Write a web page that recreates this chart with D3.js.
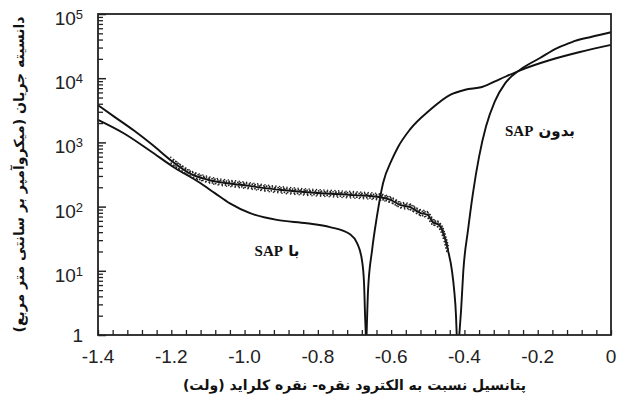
<!DOCTYPE html>
<html>
	<head>
		<meta charset="utf-8">
		<style>
			body {
				margin: 0;
				background: #fff;
			}

			#chart {
				display: block;
			}

			.tick-label {
				font-family: 'Liberation Sans', Arial, sans-serif;
				font-size: 19px;
				fill: #222;
			}

			.fa {
				font-family: 'DejaVu Sans', sans-serif;
				font-weight: bold;
				direction: rtl;
				unicode-bidi: embed;
				fill: #111;
			}
		</style>
	</head>
	<body>
		<svg id="chart" width="625" height="403"></svg>
		<script src="https://cdnjs.cloudflare.com/ajax/libs/d3/7.8.5/d3.min.js"></script>

		<script>
			// potential (V vs Ag/AgCl) and current density (uA/cm2)
			let withSapCathE = [-1.4, -1.3265, -1.258, -1.19, -1.122, -1.081, -1.04, -0.985, -0.912, -0.83, -0.767, -0.712, -0.693, -0.68, -0.674, -0.671, -0.669];
			let withSapCathI = [2240, 1350, 740, 400, 235, 162, 112, 79, 62, 55, 48, 37, 27, 15, 6.5, 1.9, 1];

			let withSapAnodE = [-0.667, -0.663, -0.652, -0.639, -0.622, -0.598, -0.581, -0.549, -0.494, -0.439, -0.398, -0.352, -0.303, -0.246, -0.166, -0.085, 0];
			let withSapAnodI = [1, 5, 21, 69, 233, 537, 850, 1580, 3200, 5500, 6600, 7300, 9700, 13400, 19200, 25600, 33000];

			let noSapCathE = [-1.4, -1.355, -1.3, -1.25, -1.2, -1.15, -1.1, -1.0, -0.9, -0.8, -0.7, -0.63, -0.6, -0.576, -0.55, -0.521, -0.5, -0.486, -0.47, -0.458, -0.445, -0.434, -0.428, -0.423, -0.421];
			let noSapCathI = [3800, 2500, 1500, 900, 520, 330, 262, 215, 181, 163, 151, 140, 126, 106, 99, 80, 74, 57, 52, 39, 21, 10, 5, 2, 1];

			let noSapAnodE = [-0.414, -0.409, -0.403, -0.39, -0.377, -0.36, -0.341, -0.317, -0.289, -0.246, -0.194, -0.147, -0.112, -0.098, -0.055, 0];
			let noSapAnodI = [1, 2.5, 10, 44, 158, 600, 1780, 4370, 8300, 13800, 20600, 29500, 35400, 38000, 43900, 52000];

			let xTickLabels = ['-1.4', '-1.2', '-1.0', '-0.8', '-0.6', '-0.4', '-0.2', '0'];
			let yDecades = [0, 1, 2, 3, 4, 5];

			let xTitle = 'پتانسیل نسبت به الکترود نقره- نقره کلراید (ولت)';
			let yTitle = 'دانسیته جریان (میکروآمپر بر سانتی متر مربع)';
			let labelWith = 'با';
			let labelWithout = 'بدون';

			let margin = { top: 14, right: 14, bottom: 68, left: 98 };
			let width = 625 - margin.left - margin.right;
			let height = 403 - margin.top - margin.bottom;

			let svg = d3.select('#chart');
			let g = svg.append('g')
				.attr('transform', `translate(${margin.left}, ${margin.top})`);

			let x = d3.scaleLinear().domain([-1.4, 0]).range([0, width]);
			let y = d3.scaleLog().domain([1, 1e5]).range([height, 0]);

			// x axis: small inside ticks every 0.04 V, labels every 0.2 V
			let xMinor = d3.range(0, 36).map(i => -1.4 + i * 0.04);
			g.append('g')
				.attr('transform', `translate(0, ${height})`)
				.call(d3.axisBottom(x).tickValues(xMinor).tickSize(-5).tickFormat(''))
				.call(a => a.select('.domain').remove())
				.call(a => a.selectAll('line').attr('stroke', '#222').attr('stroke-width', 1.3));

			g.append('g')
				.attr('transform', `translate(0, ${height})`)
				.selectAll('text')
				.data(xTickLabels)
				.join('text')
				.attr('class', 'tick-label')
				.attr('x', d => x(+d))
				.attr('y', 28)
				.attr('text-anchor', 'middle')
				.text(d => d);

			// y axis: log, minor 2..9 and decades
			let yMinor = [];
			yDecades.slice(0, -1).forEach(k => {
				for (let m = 2; m < 10; m++) yMinor.push(m * Math.pow(10, k));
			});
			g.append('g')
				.call(d3.axisLeft(y).tickValues(yMinor).tickSize(-5).tickFormat(''))
				.call(a => a.select('.domain').remove())
				.call(a => a.selectAll('line').attr('stroke', '#222').attr('stroke-width', 1.3));

			g.append('g')
				.call(d3.axisLeft(y).tickValues(yDecades.map(k => Math.pow(10, k))).tickSize(-8).tickFormat(''))
				.call(a => a.select('.domain').remove())
				.call(a => a.selectAll('line').attr('stroke', '#222').attr('stroke-width', 1.5));

			let yLab = g.append('g')
				.selectAll('text')
				.data(yDecades)
				.join('text')
				.attr('class', 'tick-label')
				.attr('text-anchor', 'end')
				.attr('x', -15)
				.attr('y', k => y(Math.pow(10, k)) + (k === 0 ? 7 : 11));
			yLab.filter(k => k === 0).text('1');
			yLab.filter(k => k > 0).each(function (k) {
				let t = d3.select(this);
				t.append('tspan').text('10');
				t.append('tspan')
					.attr('dy', -6)
					.attr('font-size', 13)
					.text(k);
			});

			// curves
			let line = d3.line()
				.x(d => x(d[0]))
				.y(d => y(d[1]))
				.curve(d3.curveMonotoneX);

			let series = [
				d3.zip(withSapCathE, withSapCathI),
				d3.zip(withSapAnodE, withSapAnodI),
				d3.zip(noSapCathE, noSapCathI),
				d3.zip(noSapAnodE, noSapAnodI),
			];

			g.selectAll('path.curve')
				.data(series)
				.join('path')
				.attr('class', 'curve')
				.attr('d', line)
				.attr('fill', 'none')
				.attr('stroke', '#111')
				.attr('stroke-width', 1.9);

			// the cathodic branch without SAP is a noisy record: draw it as a dotted band
			let noisy = d3.zip(noSapCathE, noSapCathI).filter(d => d[0] >= -1.2 && d[0] <= -0.44);
			let speckles = [
				{ dx: -0.5, dy: -3.4, dash: '0 3.7', off: 0, w: 1.6 },
				{ dx: 0.8, dy: -2.0, dash: '0 2.9', off: 1.2, w: 1.8 },
				{ dx: -1, dy: 1.8, dash: '0 3.3', off: 2.1, w: 1.8 },
				{ dx: 1.2, dy: 3.2, dash: '0 4.3', off: 0.7, w: 1.6 },
				{ dx: 0, dy: -1, dash: '0 5.1', off: 3, w: 2 },
			];
			g.selectAll('path.speckle')
				.data(speckles)
				.join('path')
				.attr('class', 'speckle')
				.attr('transform', s => `translate(${s.dx}, ${s.dy})`)
				.attr('d', line(noisy))
				.attr('fill', 'none')
				.attr('stroke', '#222')
				.attr('stroke-width', s => s.w)
				.attr('stroke-linecap', 'round')
				.attr('stroke-dasharray', s => s.dash)
				.attr('stroke-dashoffset', s => s.off);

			// frame
			g.append('rect')
				.attr('width', width)
				.attr('height', height)
				.attr('fill', 'none')
				.attr('stroke', '#222')
				.attr('stroke-width', 1.8);

			// curve labels
			g.append('text')
				.attr('class', 'fa')
				.attr('x', 277 - margin.left)
				.attr('y', 256 - margin.top)
				.attr('text-anchor', 'middle')
				.attr('font-size', 15)
				.html(`${labelWith} <tspan font-family="Liberation Serif">SAP</tspan>`);

			g.append('text')
				.attr('class', 'fa')
				.attr('x', 540 - margin.left)
				.attr('y', 136 - margin.top)
				.attr('text-anchor', 'middle')
				.attr('font-size', 15)
				.html(`${labelWithout} <tspan font-family="Liberation Serif">SAP</tspan>`);

			// axis titles
			svg.append('text')
				.attr('class', 'fa')
				.attr('x', margin.left + width / 2)
				.attr('y', 390)
				.attr('text-anchor', 'middle')
				.attr('font-size', 14)
				.text(xTitle);

			svg.append('text')
				.attr('class', 'fa')
				.attr('transform', `translate(24, ${margin.top + height / 2}) rotate(-90)`)
				.attr('text-anchor', 'middle')
				.attr('font-size', 14)
				.text(yTitle);
		</script>
	</body>
</html>
